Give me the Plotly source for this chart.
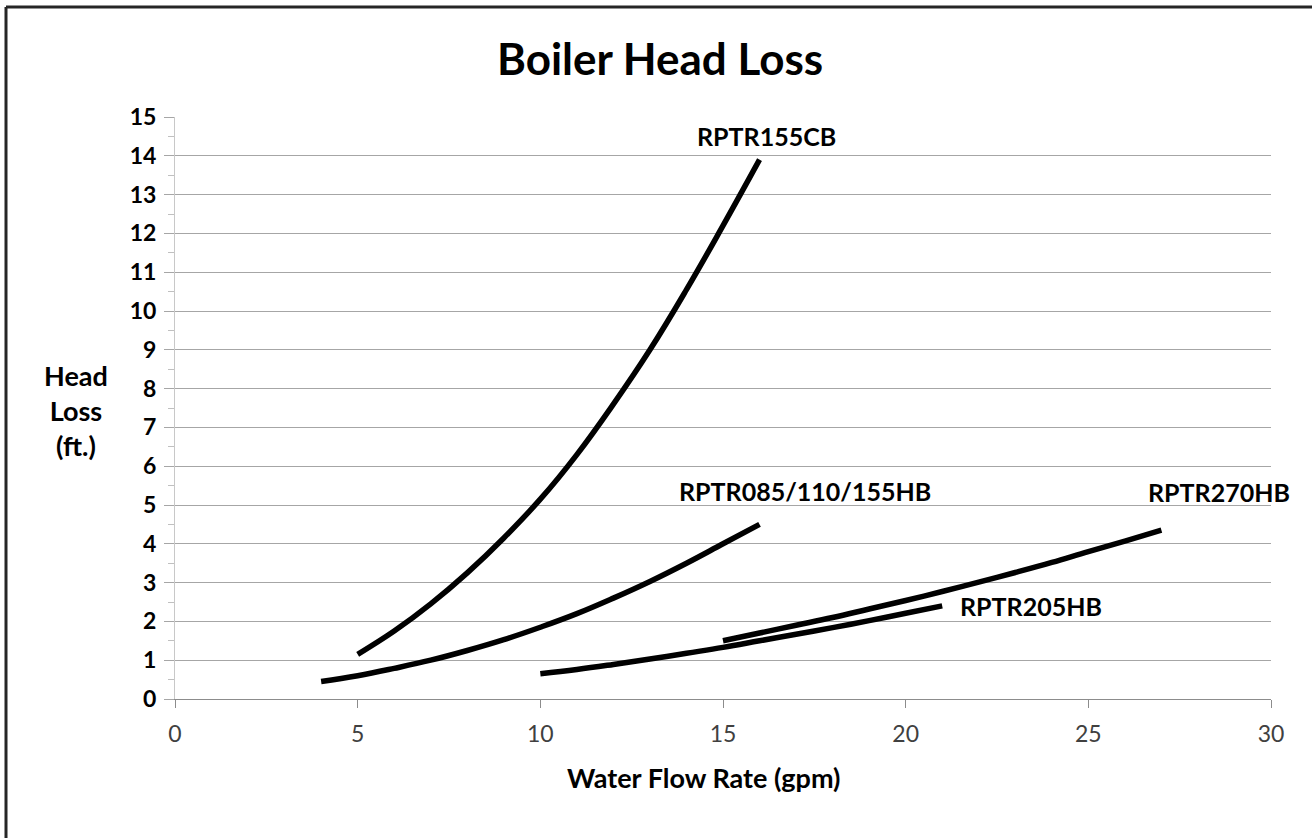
import plotly.graph_objects as go

# ---- data ----
cb155_x = [5, 6, 7, 8, 9, 10, 11, 12, 13, 14, 15, 16]
cb155_y = [1.15, 1.75, 2.45, 3.25, 4.15, 5.15, 6.3, 7.6, 9.0, 10.55, 12.2, 13.9]

hb085_x = [4, 5, 6, 7, 8, 9, 10, 11, 12, 13, 14, 15, 16]
hb085_y = [0.45, 0.6, 0.79, 1.0, 1.25, 1.53, 1.85, 2.2, 2.6, 3.03, 3.5, 4.0, 4.5]

hb205_x = [10, 11, 12, 13, 14, 15, 16, 17, 18, 19, 20, 21]
hb205_y = [0.65, 0.76, 0.89, 1.03, 1.18, 1.33, 1.5, 1.67, 1.84, 2.02, 2.21, 2.4]

hb270_x = [15, 16, 17, 18, 19, 20, 21, 22, 23, 24, 25, 26, 27]
hb270_y = [1.5, 1.7, 1.9, 2.1, 2.32, 2.54, 2.77, 3.01, 3.26, 3.52, 3.8, 4.07, 4.35]

series = [
    ("RPTR155CB", cb155_x, cb155_y),
    ("RPTR085/110/155HB", hb085_x, hb085_y),
    ("RPTR205HB", hb205_x, hb205_y),
    ("RPTR270HB", hb270_x, hb270_y),
]

labels = ["RPTR155CB", "RPTR085/110/155HB", "RPTR270HB", "RPTR205HB"]
label_x = [16.2, 17.25, 28.58, 23.43]
label_y = [14.5, 5.36, 5.33, 2.4]

x_ticks = [0, 5, 10, 15, 20, 25, 30]
y_ticks = list(range(0, 16))

W, H = 1312, 838
L, R, T, B = 175, 41, 117, 139
pw, ph = W - L - R, H - T - B

def px(x):
    return (x - L) / pw

def py(y):
    return (H - B - y) / ph

FONT = "Lato"

fig = go.Figure()
for name, xs, ys in series:
    fig.add_trace(go.Scatter(
        x=xs, y=ys, mode="lines", name=name,
        line=dict(color="black", width=5.5, shape="spline", smoothing=1.2),
        showlegend=False, hoverinfo="x+y+name",
    ))

for t, x, y in zip(labels, label_x, label_y):
    fig.add_annotation(x=x, y=y, xref="x", yref="y", text=t, showarrow=False,
                       font=dict(family=FONT, size=25, color="black", weight="bold"),
                       xanchor="center", yanchor="middle")

# title
fig.add_annotation(x=px(660), y=py(58), xref="paper", yref="paper",
                   text="Boiler Head Loss", showarrow=False,
                   font=dict(family=FONT, size=44, color="black", weight="bold"),
                   xanchor="center", yanchor="middle")
# x axis title
fig.add_annotation(x=px(704), y=py(777), xref="paper", yref="paper",
                   text="Water Flow Rate (gpm)", showarrow=False,
                   font=dict(family=FONT, size=27, color="black", weight="bold"),
                   xanchor="center", yanchor="middle")
# y axis title
fig.add_annotation(x=px(76), y=py(410), xref="paper", yref="paper",
                   text="Head<br>Loss<br>(ft.)", showarrow=False,
                   font=dict(family=FONT, size=27, color="black", weight="bold"),
                   xanchor="center", yanchor="middle", align="center")

# outer frame (top and left edges visible)
fig.add_shape(type="line", xref="paper", yref="paper",
              x0=px(6), x1=px(1320), y0=py(7), y1=py(7),
              line=dict(color="#262626", width=3))
fig.add_shape(type="line", xref="paper", yref="paper",
              x0=px(6), x1=px(6), y0=py(7), y1=py(850),
              line=dict(color="#262626", width=3))

fig.update_layout(
    width=W, height=H,
    margin=dict(l=L, r=R, t=T, b=B),
    paper_bgcolor="white", plot_bgcolor="white",
    xaxis=dict(
        range=[0, 30], tickvals=x_ticks, showgrid=False, zeroline=False,
        showline=True, linecolor="#8c8c8c", linewidth=1,
        ticks="outside", ticklen=8, tickcolor="#8c8c8c",
        tickfont=dict(family=FONT, size=23, color="#404040"),
        ticklabelstandoff=6,
    ),
    yaxis=dict(
        range=[0, 15], tickvals=y_ticks, showgrid=True, gridcolor="#a6a6a6",
        gridwidth=1, zeroline=False,
        showline=True, linecolor="#c8c8c8", linewidth=1,
        ticks="outside", ticklen=10, tickcolor="#a6a6a6",
        tickfont=dict(family=FONT, size=23, color="black", weight="bold"),
        ticklabelstandoff=3,
        minor=dict(dtick=0.5, ticks="outside", ticklen=6, tickcolor="#c0c0c0", showgrid=False),
    ),
)

fig.write_html("out.html", config={"displayModeBar": False},
               post_script="document.body.style.margin='0';document.body.style.overflow='hidden';")
